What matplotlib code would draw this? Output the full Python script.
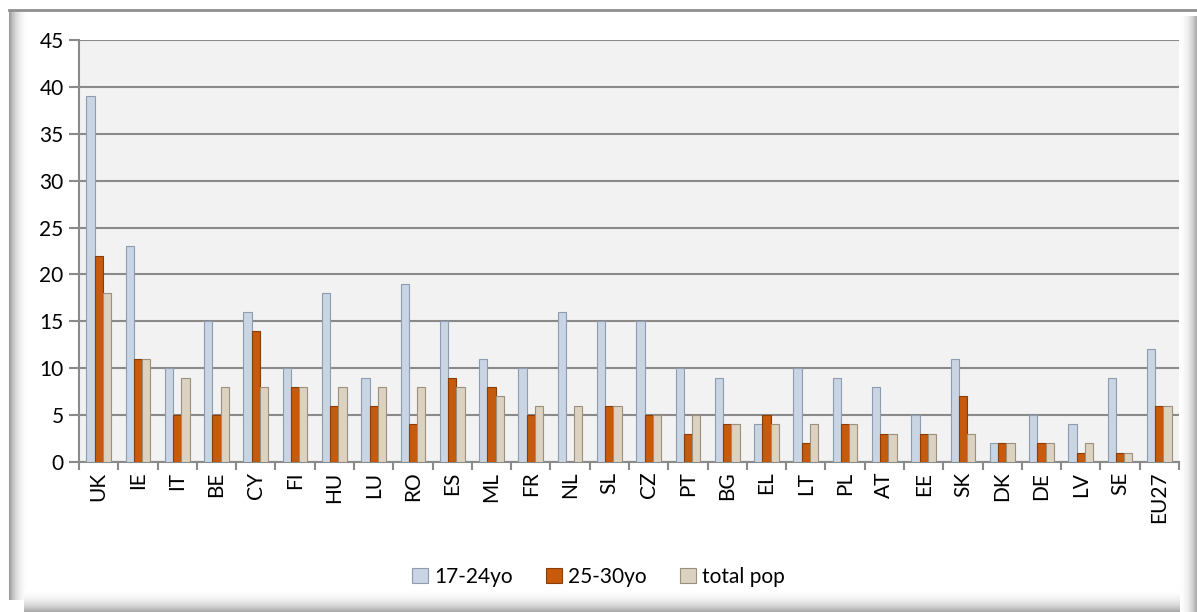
import numpy as np
import matplotlib.pyplot as plt

countries = ["UK", "IE", "IT", "BE", "CY", "FI", "HU", "LU", "RO", "ES", "ML", "FR", "NL", "SL",
             "CZ", "PT", "BG", "EL", "LT", "PL", "AT", "EE", "SK", "DK", "DE", "LV", "SE", "EU27"]
young = [39, 23, 10, 15, 16, 10, 18, 9, 19, 15, 11, 10, 16, 15, 15, 10, 9, 4, 10, 9, 8, 5, 11, 2, 5, 4, 9, 12]
adult = [22, 11, 5, 5, 14, 8, 6, 6, 4, 9, 8, 5, 0, 6, 5, 3, 4, 5, 2, 4, 3, 3, 7, 2, 2, 1, 1, 6]
total = [18, 11, 9, 8, 8, 8, 8, 8, 8, 8, 7, 6, 6, 6, 5, 5, 4, 4, 4, 4, 3, 3, 3, 2, 2, 2, 1, 6]
series_names = ["17-24yo", "25-30yo", "total pop"]

plt.rcParams['font.family'] = ['Lato', 'DejaVu Sans']

W, H = 1197, 612
fig = plt.figure(figsize=(W / 100, H / 100), dpi=100)
fig.patch.set_facecolor('white')

# background frame in pixel coordinates (bevelled border)
bg = fig.add_axes([0, 0, 1, 1], zorder=-1)
bg.axis('off')
ramp = np.linspace(0, 1, 64) ** 1.5
cm = plt.get_cmap('Greys')
# left bevel: dark -> white
bg.imshow(np.tile(ramp[::-1], (2, 1)) * 0.5, cmap=cm, vmin=0, vmax=1, aspect='auto',
          extent=(9, 28, 600, 10), interpolation='bilinear')
# right bevel: white -> dark
bg.imshow(np.tile(ramp, (2, 1)) * 0.45, cmap=cm, vmin=0, vmax=1, aspect='auto',
          extent=(1180, W, 612, 16), interpolation='bilinear')
# bottom bevel: white -> dark
bg.imshow(np.tile(ramp, (2, 1)).T * 0.45, cmap=cm, vmin=0, vmax=1, aspect='auto',
          extent=(24, 1180, 612, 590), interpolation='bilinear')
bg.plot([9, W], [10, 10], color='#8f8f8f', lw=2)
bg.set_xlim(0, W)
bg.set_ylim(H, 0)

ax = fig.add_axes([79 / W, 1 - 462 / H, (1179 - 79) / W, (462 - 40) / H])
ax.set_facecolor('#f2f2f2')

x = np.arange(len(countries))
w = 0.21
ax.bar(x - w, young, w, color='#c9d5e3', edgecolor='#8d9caf', lw=0.8, label=series_names[0], zorder=3)
ax.bar(x, adult, w, color='#c65a0d', edgecolor='#8a3d05', lw=0.8, label=series_names[1], zorder=3)
ax.bar(x + w, total, w, color='#dcd2c2', edgecolor='#9c907c', lw=0.8, label=series_names[2], zorder=3)

ax.set_xlim(-0.5, len(countries) - 0.5)
ax.set_ylim(0, 45)
ax.set_yticks(range(0, 46, 5))
ax.yaxis.grid(True, color='#8a8a8a', lw=1.5, zorder=1)
ax.set_xticks(x)
ax.set_xticklabels(countries, rotation=90, fontsize=15)
ax.set_xticks(np.arange(-0.5, len(countries), 1), minor=True)
ax.tick_params(axis='x', which='major', length=0, pad=7)
ax.tick_params(axis='x', which='minor', length=6, color='#8a8a8a', width=1.5)
ax.tick_params(axis='y', labelsize=15, length=7, color='#8a8a8a', width=1.5, pad=4)
for s in ['top', 'right']:
    ax.spines[s].set_visible(False)
for s in ['left', 'bottom']:
    ax.spines[s].set_color('#8a8a8a')
    ax.spines[s].set_linewidth(1.5)

fig.legend(loc='center', bbox_to_anchor=(0.5, 1 - 577 / H), ncol=3, frameon=False,
           fontsize=15, handlelength=0.75, handleheight=0.75, handletextpad=0.3, columnspacing=1.6)

fig.savefig('out.png', dpi=100)
